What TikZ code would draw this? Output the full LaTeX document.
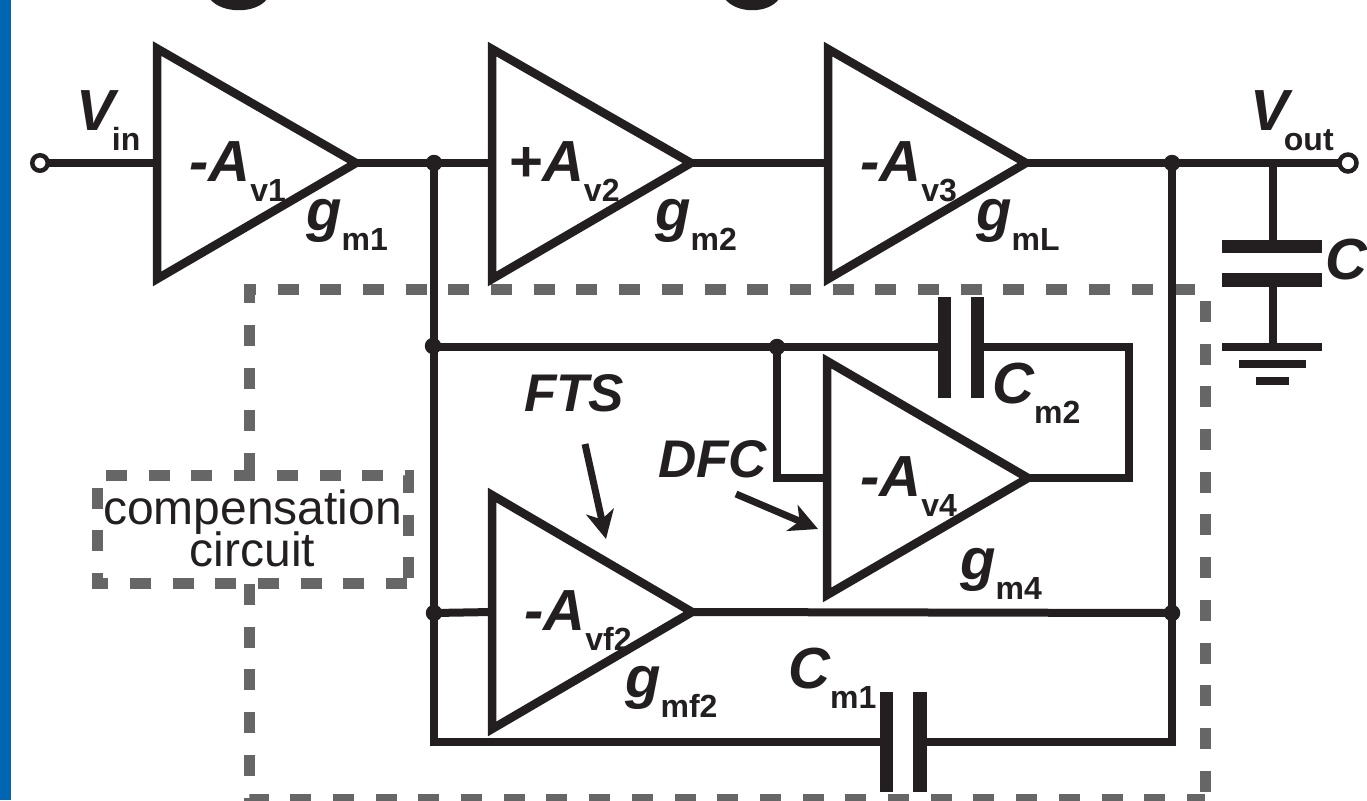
\documentclass[tikz,border=0pt]{standalone}
\usepackage{fontspec}
\setmainfont{Liberation Sans}
\usetikzlibrary{arrows.meta}
\definecolor{ink}{HTML}{231F20}
\definecolor{dashgray}{HTML}{666666}
\definecolor{sidebar}{HTML}{0066B3}
\newcommand{\mainlbl}[3][0pt]{{\bfseries\itshape\fontsize{58}{58}\selectfont #2}\hspace{#1}{\bfseries\fontsize{32}{32}\selectfont\raisebox{-20pt}{#3}}}
\tikzset{
  wire/.style={draw=ink,line width=8pt,line cap=butt,line join=miter},
  amp/.style={draw=ink,line width=8.5pt,line join=miter,miter limit=10},
  plate/.style={draw=ink,line width=13.3pt},
  dotj/.style={circle,fill=ink,inner sep=0pt,minimum size=16.5pt},
  term/.style={circle,draw=ink,fill=white,line width=4.5pt,inner sep=0pt,minimum size=17pt},
  dashbox/.style={draw=dashgray,line width=11pt,dash pattern=on 21pt off 21.7pt},
  lbl/.style={inner sep=0pt,text=ink,anchor=base west},
  arroww/.style={draw=ink,line width=7pt,-{Stealth[length=28pt,width=28pt,inset=8pt]}},
}
\begin{document}
\begin{tikzpicture}[x=1pt,y=-1pt]
\useasboundingbox (0,0) rectangle (1367,800);
\clip (0,0) rectangle (1367,800);
\fill[sidebar] (0,0) rectangle (11,800);
% cut-off letters at the top edge
\fill[ink] (210,-1) .. controls (222,14) and (256,14) .. (267,-1) -- cycle;
\fill[ink] (725,-1) .. controls (737,14) and (768,14) .. (779,-1) -- cycle;

% dashed compensation outline
\draw[dashbox] (249,474) -- (249,289) -- (1205,289) -- (1205,799);
\draw[dashbox] (249,584) -- (249,799) -- (1205,799);
\draw[dashbox] (407,583) -- (97,583) -- (97,475) -- (408,475) -- (408,578);

% named points
\coordinate (vin) at (40,163);
\coordinate (a1in) at (157,163);
\coordinate (a1out) at (356,163);
\coordinate (a2in) at (492,163);
\coordinate (a2out) at (691,163);
\coordinate (a3in) at (828,163);
\coordinate (a3out) at (1026,163);
\coordinate (a4in) at (827,478);
\coordinate (a4out) at (1028,478);
\coordinate (afin) at (492,612);
\coordinate (afout) at (692,612);
\coordinate (vout) at (1348,163);

% amplifiers
\draw[amp] (157,48.5) -- (157,279) -- (a1out) -- cycle;
\draw[amp] (492,49) -- (492,279) -- (a2out) -- cycle;
\draw[amp] (828,49) -- (828,279) -- (a3out) -- cycle;
\draw[amp] (827,361) -- (827,595) -- (a4out) -- cycle;
\draw[amp] (492,495) -- (492,729) -- (afout) -- cycle;

% junctions
\node[dotj] (j1) at (434,163) {};
\node[dotj] (j2) at (433,346) {};
\node[dotj] (j3) at (777,347) {};
\node[dotj] (j4) at (434,613) {};
\node[dotj] (j5) at (1172,163) {};
\node[dotj] (j6) at (1172,613) {};
\coordinate (bl) at (434,742);
\coordinate (br) at (1172,742);
\coordinate (cm2l) at (944.5,347);
\coordinate (cm2r) at (977.5,347);
\coordinate (rt) at (1129,347);
\coordinate (rb) at (1129,478);
\coordinate (lb) at (777,478);
\coordinate (cm1l) at (886.5,742);
\coordinate (cm1r) at (920,742);
\coordinate (clt) at (1272.5,246.5);
\coordinate (clb) at (1272.5,280);
\coordinate (gnd) at (1272.5,347);
\coordinate (vtap) at (1272.5,163);

% wires
\draw[wire] (vin) -- (a1in);
\draw[wire] (a1out) -- (a2in);
\draw[wire] (a2out) -- (a3in);
\draw[wire] (a3out) -- (vout);
\draw[wire] (j1.center) -- (bl) -- (cm1l);
\draw[wire] (j5.center) -- (br) -- (cm1r);
\draw[wire] (433,347) -- (cm2l);
\draw[wire] (j3.center) -- (lb) -- (a4in);
\draw[wire] (cm2r) -- (rt) -- (rb) -- (a4out);
\draw[wire] (j4.center) -- (afin);
\draw[wire] (afout) -- (j6.center);

% capacitors
\draw[plate] (944.5,297) -- (944.5,398);
\draw[plate] (977.5,297) -- (977.5,398);
\draw[plate] (886.5,692) -- (886.5,792);
\draw[plate] (920,692) -- (920,792);
\draw[plate] (1222,246.5) -- (1322,246.5);
\draw[plate] (1222,280) -- (1322,280);
\draw[wire] (vtap) -- (clt);
\draw[wire] (clb) -- (gnd);
\draw[ink,line width=8pt] (1222,347) -- (1322,347);
\draw[ink,line width=8pt] (1239,364) -- (1306,364);
\draw[ink,line width=8pt] (1256,380.5) -- (1289,380.5);

% terminals
\node[term,minimum size=15.5pt] (tin) at (vin) {};
\node[term] (tout) at (vout) {};

% arrows
\coordinate (ftsa) at (585,444);
\coordinate (ftsb) at (606,539);
\coordinate (dfca) at (736,494);
\coordinate (dfcb) at (818,529);
\draw[arroww] (ftsa) -- (ftsb);
\draw[arroww] (dfca) -- (dfcb);

% labels
\node[lbl] (Lvin) at (76,130) {\mainlbl[-3pt]{V}{in}};
\node[lbl] (La1) at (189,181) {\mainlbl{-A}{v1}};
\node[lbl] (Lg1) at (306,230) {\mainlbl{g}{m1}};
\node[lbl] (La2) at (508,181) {\mainlbl{+A}{v2}};
\node[lbl] (Lg2) at (655,230) {\mainlbl{g}{m2}};
\node[lbl] (La3) at (860,181) {\mainlbl{-A}{v3}};
\node[lbl] (Lg3) at (976,230) {\mainlbl{g}{mL}};
\node[lbl] (Lvout) at (1250,130) {\mainlbl[-5pt]{V}{out}};
\node[lbl] (Lcl) at (1325,279) {\mainlbl[-2pt]{C}{L}};
\node[lbl] (Lcm2) at (992,403) {\mainlbl{C}{m2}};
\node[lbl] (Lfts) at (524,411) {\bfseries\itshape\fontsize{53}{53}\selectfont FTS};
\node[lbl] (Ldfc) at (658,477) {\bfseries\itshape\fontsize{53}{53}\selectfont DFC};
\node[lbl] (La4) at (860,496) {\mainlbl{-A}{v4}};
\node[lbl] (Lg4) at (960,579) {\mainlbl{g}{m4}};
\node[lbl] (Laf) at (524,630) {\mainlbl{-A}{vf2}};
\node[lbl] (Lgf) at (625,697) {\mainlbl{g}{mf2}};
\node[lbl] (Lcm1) at (788,688) {\mainlbl{C}{m1}};
\node[text=ink,inner sep=0pt,align=center,font=\fontsize{48}{42}\selectfont] (Lcomp) at (252.5,528) {compensation\\[-4pt]circuit};
\end{tikzpicture}
\end{document}
